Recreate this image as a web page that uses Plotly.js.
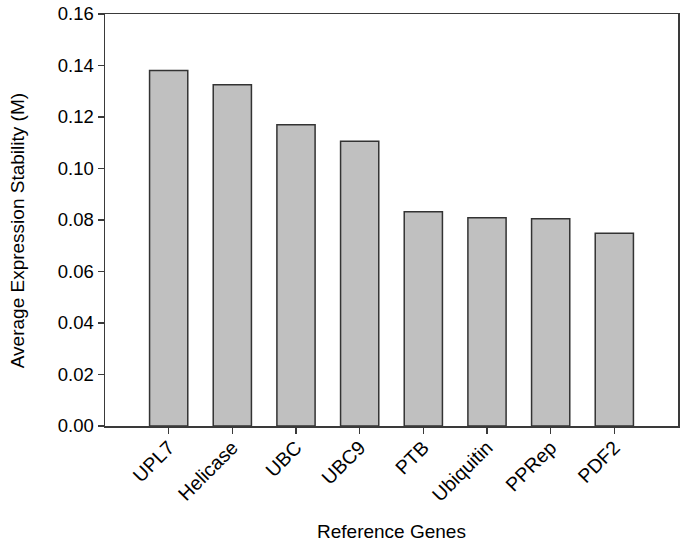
<!DOCTYPE html>
<html>
<head>
<meta charset="utf-8">
<script src="https://cdn.plot.ly/plotly-3.0.1.min.js"></script>
<style>html,body{margin:0;padding:0;background:#fff}#chart{width:685px;height:549px}</style>
</head>
<body>
<div id="chart"></div>
<script>
const genes = ["UPL7", "Helicase", "UBC", "UBC9", "PTB", "Ubiquitin", "PPRep", "PDF2"];
const stability = [0.1381, 0.1325, 0.1170, 0.1106, 0.0832, 0.0809, 0.0805, 0.0749];
const yTicks = [0, 0.02, 0.04, 0.06, 0.08, 0.10, 0.12, 0.14, 0.16];
const yTickText = ["0.00", "0.02", "0.04", "0.06", "0.08", "0.10", "0.12", "0.14", "0.16"];
const xTitle = "Reference Genes";
const yTitle = "Average Expression Stability (M)";

const fam = "Liberation Sans, Arial, sans-serif";
const yTickFont = {family: fam, size: 18.5, color: "#000"};
const xTickFont = {family: fam, size: 19.5, color: "#000"};
const titleFont = {family: fam, size: 19, color: "#000"};

Plotly.newPlot("chart", [{
  type: "bar",
  x: genes,
  y: stability,
  width: 0.6,
  marker: {color: "#c0c0c0", line: {color: "#333333", width: 1.5}},
  hoverinfo: "x+y"
}], {
  width: 685, height: 549,
  margin: {l: 104.5, r: 7.3, t: 13.5, b: 123.3, pad: 0},
  paper_bgcolor: "#fff", plot_bgcolor: "#fff",
  font: yTickFont,
  showlegend: false,
  xaxis: {
    type: "category",
    range: [-1, 8],
    tickangle: -45,
    ticks: "outside", ticklen: 6, tickwidth: 1.5, tickcolor: "#3a3a3a",
    showline: true, linecolor: "#3a3a3a", linewidth: 1.5, mirror: true,
    showgrid: false, zeroline: false, automargin: false,
    ticklabelstandoff: -5,
    tickfont: xTickFont
  },
  yaxis: {
    range: [0, 0.16],
    tickvals: yTicks, ticktext: yTickText,
    ticks: "outside", ticklen: 6, tickwidth: 1.5, tickcolor: "#3a3a3a",
    showline: true, linecolor: "#3a3a3a", linewidth: 1.5, mirror: true,
    showgrid: false, zeroline: false, automargin: false,
    tickfont: yTickFont
  },
  annotations: [
    {text: xTitle, xref: "paper", yref: "paper", x: 0.5, y: -0.2555,
     xanchor: "center", yanchor: "middle", showarrow: false, font: titleFont},
    {text: yTitle, xref: "paper", yref: "paper", x: -0.1527, y: 0.474,
     xanchor: "center", yanchor: "middle", textangle: -90, showarrow: false, font: titleFont}
  ]
}, {displayModeBar: false, staticPlot: true});
</script>
</body>
</html>
